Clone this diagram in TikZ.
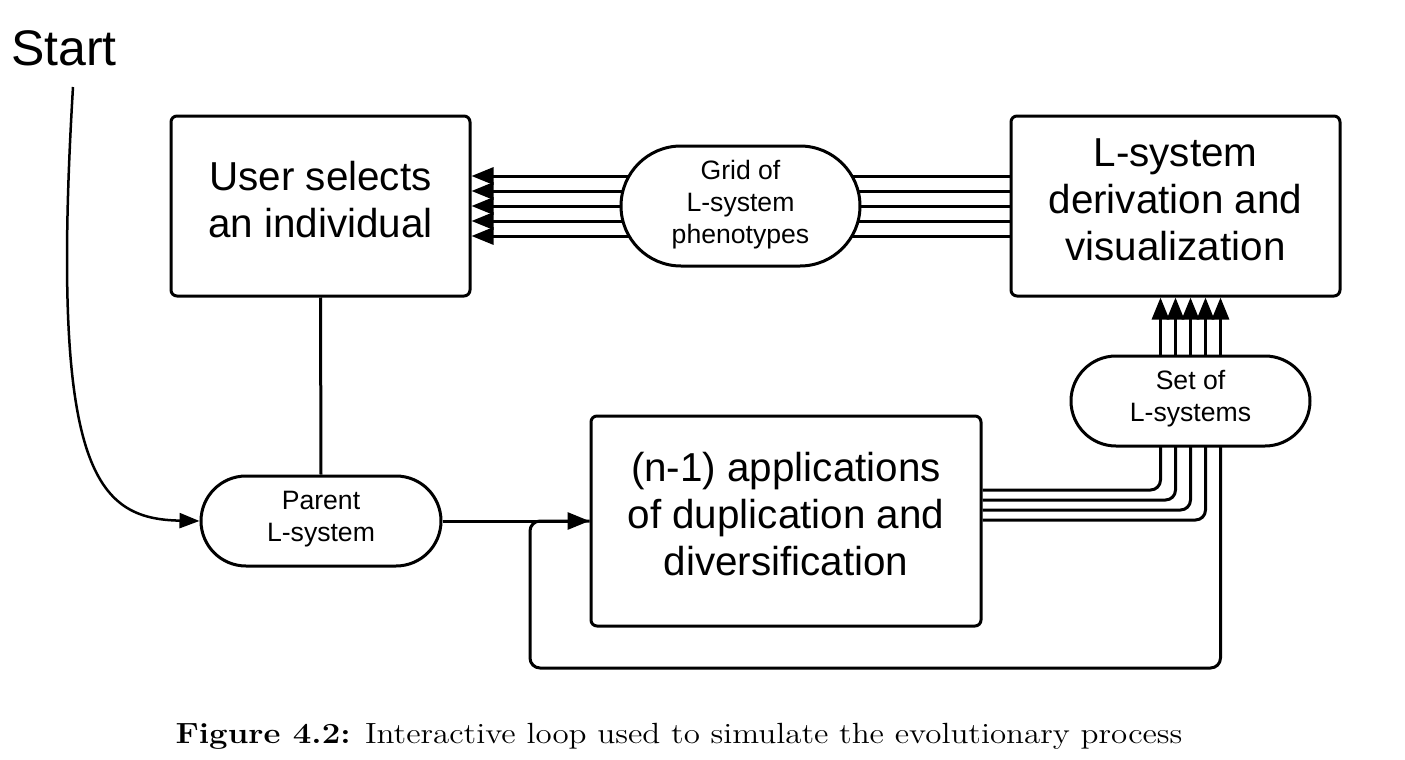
\documentclass[tikz,border=0pt]{standalone}
\usepackage{fontspec}
\newfontfamily\arial{Liberation Sans}
\usetikzlibrary{arrows.meta,backgrounds,shapes.misc}
\begin{document}
\begin{tikzpicture}[x=0.5pt,y=-0.5pt,
  box/.style={draw,line width=1.5pt,rounded corners=3pt,fill=white,inner sep=0pt},
  boxtext/.style={align=center,font=\arial\fontsize{20.2}{23.5}\selectfont,inner sep=0pt},
  pill/.style={draw,line width=1.5pt,rounded rectangle,fill=white,inner sep=0pt},
  pilltext/.style={align=center,font=\arial\fontsize{13.3}{16}\selectfont,inner sep=0pt},
  conn/.style={line width=1.5pt},
  tip/.style={-{Triangle[length=11pt,width=8.5pt]}},
  ]
\useasboundingbox (0,0) rectangle (1405,760);

\node[box,minimum width=149.5pt,minimum height=90pt] (user) at (320.5,206) {};
\node[boxtext] (usert) at ([yshift=3.3pt]user.center) {User selects\\an individual};
\node[box,minimum width=164.5pt,minimum height=90pt] (lsys) at (1175.5,206) {};
\node[boxtext] (lsyst) at ([yshift=3.3pt]lsys.center) {L-system\\derivation and\\visualization};
\node[box,minimum width=195pt,minimum height=105pt] (nbox) at (786,521) {};
\node[boxtext] (nboxt) at ([yshift=3.5pt]nbox.center) {(n-1) applications\\of duplication and\\diversification};
\node[pill,minimum width=119.5pt,minimum height=60pt] (grid) at (740.5,206) {};
\node[pilltext] (gridt) at ([yshift=0.6pt]grid.center) {Grid of\\L-system\\phenotypes};
\node[pill,minimum width=119.5pt,minimum height=45pt] (set) at (1190.5,401) {};
\node[pilltext] (sett) at ([yshift=1pt]set.center) {Set of\\L-systems};
\node[pill,minimum width=120pt,minimum height=45pt] (parent) at (321,521) {};
\node[pilltext] (parentt) at ([yshift=1pt]parent.center) {Parent\\L-system};
\node[font=\arial\fontsize{25}{30}\selectfont,inner sep=0pt] (start) at (64,48) {Start};
\coordinate (s0) at (73,87);
\coordinate (lbl) at (530,668);
\node[font=\fontsize{14.6}{17}\selectfont,inner sep=0pt] (cap) at (679,736)
  {\scalebox{1.13}[1]{\textbf{Figure 4.2:} Interactive loop used to simulate the evolutionary process}};

\begin{pgfonlayer}{background}
\fill[white] (0,0) rectangle (1405,760);
\foreach \d in {15,7.5,0,-7.5,-15} {
  \draw[conn] ([yshift=\d pt]grid.center) coordinate (a) -- (a -| lsys.west);
  \draw[conn,tip] (a) -- (a -| user.east);
}
\foreach \d in {-15,-7.5,0,7.5,15} {
  \draw[conn,tip] ([xshift=\d pt]set.center) coordinate (b) -- (b |- lsys.south);
}
\foreach \d/\e in {-15/15.5,-7.5/10.5,0/5.5,7.5/0.5} {
  \draw[conn,rounded corners=5pt] ([xshift=\d pt]set.center) |- ([yshift=\e pt]nbox.east);
}
\draw[conn,rounded corners=5pt] ([xshift=15pt]set.center) |- (lbl) |- (nbox.west);
\end{pgfonlayer}

\draw[conn] (user.south) -- (parent.north);
\draw[conn,tip] (parent.east) -- (nbox.west);
\draw[line width=1.25pt,-{Triangle[length=10pt,width=7.5pt]}] (s0) .. controls (50,470) and (95,519) .. (parent.west);
\end{tikzpicture}
\end{document}
